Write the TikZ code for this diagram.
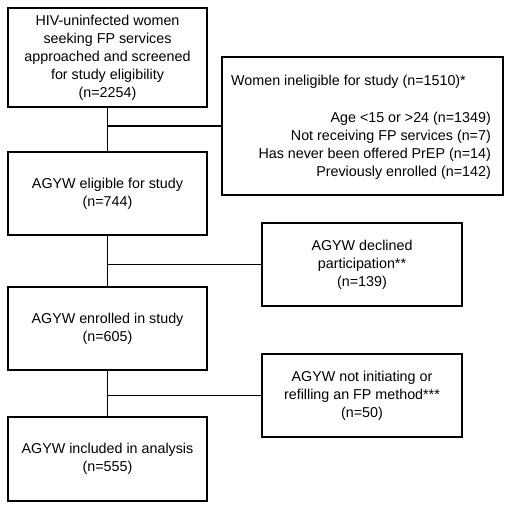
\documentclass[tikz,border=0pt]{standalone}
\usepackage{fontspec}
\setmainfont{Liberation Sans}
\begin{document}
\begin{tikzpicture}[x=1pt,y=-1pt,
  box/.style={draw,line width=1.2pt,inner sep=0pt,minimum width=#1},
  txt/.style={align=center,font=\fontsize{14.3}{18}\selectfont,inner sep=0pt},
  ln/.style={line width=1.2pt}]
\useasboundingbox (0,0) rectangle (510,510);
% main boxes
\node[box=199pt,minimum height=99pt,txt] (scr) at (107.5,57.5) {HIV-uninfected women\\seeking FP services\\approached and screened\\for study eligibility\\(n=2254)};
\node[box=199pt,minimum height=83pt,txt] (elig) at (107.5,193.5) {AGYW eligible for study\\(n=744)};
\node[box=199pt,minimum height=83pt,txt] (enr) at (107.5,328.5) {AGYW enrolled in study\\(n=605)};
\node[box=199pt,minimum height=84pt,txt] (inc) at (107.5,459) {AGYW included in analysis\\(n=555)};
% side boxes
\node[box=281pt,minimum height=138pt] (inel) at (362.5,126) {};
\node[txt,anchor=west] (inelt) at (231,82) {Women ineligible for study (n=1510)*};
\node[txt,align=right,anchor=north east] (inell) at (491,112) {Age <15 or >24 (n=1349)\\Not receiving FP services (n=7)\\Has never been offered PrEP (n=14)\\Previously enrolled (n=142)};
\node[box=200pt,minimum height=83pt,txt] (decl) at (362,264.5) {AGYW declined\\participation**\\(n=139)};
\node[box=200pt,minimum height=83pt,txt] (noin) at (362,395.5) {AGYW not initiating or\\refilling an FP method***\\(n=50)};
% connectors
\coordinate (j1) at (107.5,126);
\coordinate (j2) at (107.5,264.5);
\coordinate (j3) at (107.5,395.5);
\draw[ln] (scr) -- (elig);
\draw[ln] (j1) -- (inel.west);
\draw[ln] (elig) -- (enr);
\draw[ln] (j2) -- (decl);
\draw[ln] (enr) -- (inc);
\draw[ln] (j3) -- (noin);
\end{tikzpicture}
\end{document}
